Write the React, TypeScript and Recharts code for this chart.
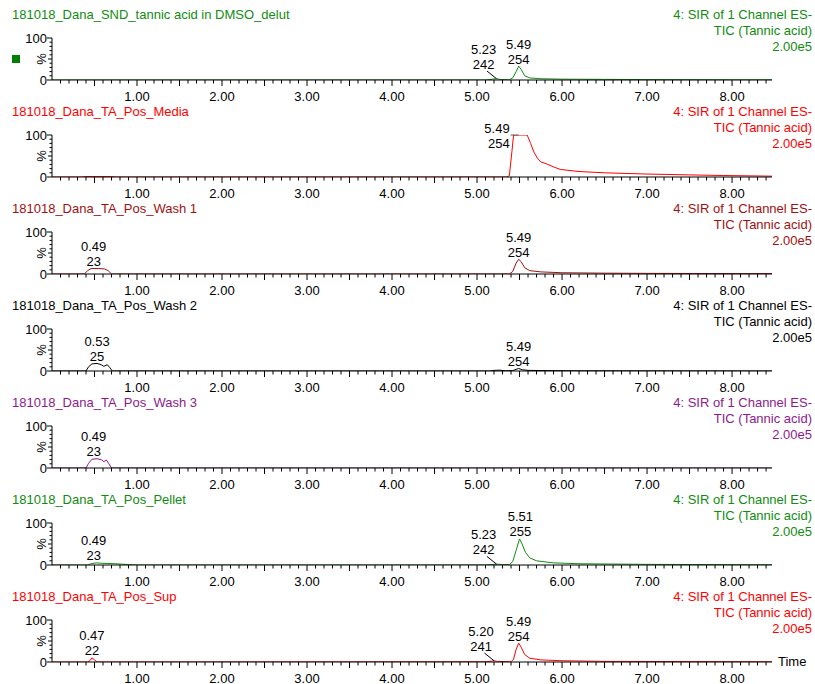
import { LineChart, Line, XAxis, YAxis, ReferenceDot } from "recharts";

const FONT = '"Liberation Sans", Arial, sans-serif';

// sample names and colours, top to bottom
const titles = [
  "181018_Dana_SND_tannic acid in DMSO_delut",
  "181018_Dana_TA_Pos_Media",
  "181018_Dana_TA_Pos_Wash 1",
  "181018_Dana_TA_Pos_Wash 2",
  "181018_Dana_TA_Pos_Wash 3",
  "181018_Dana_TA_Pos_Pellet",
  "181018_Dana_TA_Pos_Sup",
];
const colors = ["#108c10", "#ff0000", "#a01010", "#000000", "#8c1a8c", "#108c10", "#ff0000"];
const channelText = ["4: SIR of 1 Channel ES-", "TIC (Tannic acid)", "2.00e5"];

const xLabels = [1, 2, 3, 4, 5, 6, 7, 8];
const yTicks = [0, 10, 20, 30, 40, 50, 60, 70, 80, 90, 100];

// [time (min), % of 2.00e5]
const sndTrace = [
  [0, 0], [5.1, 0], [5.18, 2], [5.23, 3], [5.28, 1], [5.38, 0.5], [5.42, 5], [5.46, 20],
  [5.49, 33], [5.52, 25], [5.56, 10], [5.62, 5], [5.75, 3], [6.0, 2], [6.5, 1.5], [7.0, 1],
  [8.0, 0.5], [8.47, 0.5],
];
const mediaTrace = [
  [0, 0], [0.35, 0], [0.4, 1], [0.7, 1], [0.75, 0], [5.35, 0], [5.38, 3], [5.41, 60],
  [5.43, 100], [5.59, 100], [5.63, 80], [5.67, 59], [5.71, 45], [5.75, 36], [5.82, 31],
  [5.9, 24], [5.98, 18], [6.2, 13], [6.5, 10], [7.0, 7], [7.5, 5], [7.9, 3.5], [8.47, 2],
];
const wash1Trace = [
  [0, 0], [0.38, 0], [0.42, 8], [0.46, 13], [0.55, 13], [0.62, 12], [0.66, 8], [0.7, 0],
  [5.38, 0], [5.42, 6], [5.46, 26], [5.49, 35], [5.52, 29], [5.56, 15], [5.62, 8],
  [5.75, 5], [6.0, 3], [6.5, 2], [7.0, 1.5], [8.0, 1], [8.47, 1],
];
const wash2Trace = [
  [0, 0], [0.4, 0], [0.43, 10], [0.47, 17], [0.53, 18], [0.58, 15], [0.61, 11], [0.65, 15],
  [0.68, 8], [0.71, 0], [5.15, 0], [5.2, 1.5], [5.27, 2], [5.33, 0.5], [5.42, 1], [5.46, 4],
  [5.49, 6], [5.53, 3], [5.6, 1.5], [5.8, 1], [6.2, 0.5], [8.47, 0],
];
const wash3Trace = [
  [0, 0], [0.4, 0], [0.43, 11], [0.47, 21], [0.53, 22], [0.58, 20], [0.61, 15], [0.64, 19],
  [0.67, 10], [0.7, 0], [8.47, 0],
];
const pelletTrace = [
  [0, 0], [0.42, 0], [0.46, 3], [0.52, 5], [0.6, 4], [0.75, 3], [0.9, 1], [1.0, 0],
  [5.1, 0], [5.2, 1.5], [5.25, 2], [5.3, 1], [5.38, 1], [5.42, 8], [5.46, 35], [5.5, 62],
  [5.53, 50], [5.57, 30], [5.62, 17], [5.7, 10], [5.9, 5], [6.2, 3], [7.0, 1.5], [8.47, 0.5],
];
const supTrace = [
  [0, 0], [0.42, 0], [0.45, 4], [0.47, 10], [0.5, 5], [0.53, 0], [5.1, 0.5], [5.17, 2],
  [5.2, 3], [5.24, 1.5], [5.4, 0.5], [5.43, 7], [5.46, 30], [5.49, 45], [5.52, 35],
  [5.56, 18], [5.62, 9], [5.75, 5], [6.0, 3], [6.5, 1.5], [7.5, 1], [8.47, 0.5],
];
const traces = [sndTrace, mediaTrace, wash1Trace, wash2Trace, wash3Trace, pelletTrace, supTrace];

// peak annotations: retention time, scan
const sndPeaks = [
  { t: 5.23, v: 3, rt: "5.23", scan: "242", kind: "leader" },
  { t: 5.49, v: 33, rt: "5.49", scan: "254", kind: "top" },
];
const mediaPeaks = [{ t: 5.49, v: 100, rt: "5.49", scan: "254", kind: "left" }];
const wash1Peaks = [
  { t: 0.49, v: 13, rt: "0.49", scan: "23", kind: "top" },
  { t: 5.49, v: 35, rt: "5.49", scan: "254", kind: "top" },
];
const wash2Peaks = [
  { t: 0.53, v: 18, rt: "0.53", scan: "25", kind: "top" },
  { t: 5.49, v: 6, rt: "5.49", scan: "254", kind: "top" },
];
const wash3Peaks = [{ t: 0.49, v: 22, rt: "0.49", scan: "23", kind: "top" }];
const pelletPeaks = [
  { t: 0.49, v: 5, rt: "0.49", scan: "23", kind: "top" },
  { t: 5.23, v: 2, rt: "5.23", scan: "242", kind: "leader" },
  { t: 5.51, v: 62, rt: "5.51", scan: "255", kind: "top" },
];
const supPeaks = [
  { t: 0.47, v: 10, rt: "0.47", scan: "22", kind: "top" },
  { t: 5.2, v: 3, rt: "5.20", scan: "241", kind: "leader" },
  { t: 5.49, v: 45, rt: "5.49", scan: "254", kind: "top" },
];
const peaks = [sndPeaks, mediaPeaks, wash1Peaks, wash2Peaks, wash3Peaks, pelletPeaks, supPeaks];

const X_MAX = 8.47;
const xTicks = Array.from({ length: 84 }, (_, i) => (i + 1) / 10);

const XTick = (props: any) => {
  const { x, y, payload } = props;
  const tenth = Math.round(payload.value * 10);
  const isInt = tenth % 10 === 0;
  const len = tenth % 5 === 0 ? 6 : 3.5;
  return (
    <g>
      <line x1={x} x2={x} y1={y} y2={y + len} stroke="#000" />
      {isInt && xLabels.includes(tenth / 10) && (
        <text x={x} y={y + 20.5} textAnchor="middle" fontSize={13} fontFamily={FONT} fill="#000">
          {(tenth / 10).toFixed(2)}
        </text>
      )}
    </g>
  );
};

const YTick = (props: any) => {
  const { x, y, payload } = props;
  const v = payload.value;
  const major = v === 0 || v === 100;
  return (
    <g>
      <line x1={x - (major ? 5 : v === 50 ? 4 : 2.5)} x2={x} y1={y} y2={y} stroke="#000" />
      {major && (
        <text x={x - 5} y={y + 4.5} textAnchor="end" fontSize={13} fontFamily={FONT} fill="#000">
          {v}
        </text>
      )}
    </g>
  );
};

const PctLabel = (props: any) => {
  const { x, y, width, height } = props.viewBox;
  const cx = x + width - 11;
  const cy = y + height / 2;
  return (
    <text x={cx} y={cy} transform={`rotate(-90 ${cx} ${cy})`} textAnchor="middle" dominantBaseline="central"
      fontSize={13} fontFamily={FONT} fill="#000">
      %
    </text>
  );
};

const peakShape = (p: any) => (props: any) => {
  const { cx, cy } = props;
  const txt = { fontSize: 13, fontFamily: FONT, fill: "#000" };
  if (p.kind === "leader") {
    return (
      <g>
        <line x1={cx - 9.6} y1={cy - 7.7} x2={cx} y2={cy} stroke="#000" />
        <text x={cx - 13} y={cy - 24.8} textAnchor="middle" {...txt}>{p.rt}</text>
        <text x={cx - 13} y={cy - 9.8} textAnchor="middle" {...txt}>{p.scan}</text>
      </g>
    );
  }
  if (p.kind === "left") {
    return (
      <g>
        <line x1={cx - 8} y1={cy} x2={cx} y2={cy} stroke="#555" />
        <text x={cx - 9} y={cy - 2.5} textAnchor="end" {...txt}>{p.rt}</text>
        <text x={cx - 9} y={cy + 12.5} textAnchor="end" {...txt}>{p.scan}</text>
      </g>
    );
  }
  return (
    <g>
      <text x={cx} y={cy - 17.5} textAnchor="middle" {...txt}>{p.rt}</text>
      <text x={cx} y={cy - 2.5} textAnchor="middle" {...txt}>{p.scan}</text>
    </g>
  );
};

const Panel = ({ index }: { index: number }) => {
  const color = colors[index];
  const data = traces[index].map(([t, v]) => ({ t, v }));
  return (
    <div style={{ position: "absolute", left: 0, top: 97 * index, width: 815, height: 97 }}>
      <div style={{ position: "absolute", left: 12, top: 7, fontSize: 13, lineHeight: "16px", color, whiteSpace: "nowrap" }}>
        {titles[index]}
      </div>
      <div style={{ position: "absolute", right: 3, top: 7, fontSize: 13, lineHeight: "16px", color, textAlign: "right", whiteSpace: "nowrap" }}>
        {channelText.map((s) => (
          <div key={s}>{s}</div>
        ))}
      </div>
      {index === 0 && (
        <div style={{ position: "absolute", left: 12, top: 55, width: 8, height: 8, background: "#008000" }} />
      )}
      {index === titles.length - 1 && (
        <div style={{ position: "absolute", left: 778, top: 72, fontSize: 13, lineHeight: "16px", color: "#000" }}>Time</div>
      )}
      <div style={{ position: "absolute", left: 0, top: 6 }}>
        <LineChart width={815} height={96} data={data} margin={{ top: 32, right: 43, bottom: 2, left: 0 }}>
          <XAxis
            type="number"
            dataKey="t"
            domain={[0, X_MAX]}
            ticks={xTicks}
            interval={0}
            allowDataOverflow
            tick={<XTick />}
            tickLine={false}
            tickSize={0}
            tickMargin={0}
            axisLine={{ stroke: "#000" }}
            height={20}
          />
          <YAxis
            type="number"
            domain={[0, 100]}
            ticks={yTicks}
            interval={0}
            allowDataOverflow
            tick={<YTick />}
            tickLine={false}
            tickSize={0}
            tickMargin={0}
            axisLine={{ stroke: "#000" }}
            width={52}
            label={<PctLabel />}
          />
          <Line type="linear" dataKey="v" stroke={color} strokeWidth={1} dot={false} isAnimationActive={false} />
          {peaks[index].map((p) => (
            <ReferenceDot key={p.rt + p.scan} x={p.t} y={p.v} r={0} shape={peakShape(p)} ifOverflow="visible" />
          ))}
        </LineChart>
      </div>
    </div>
  );
}

export default function App() {
  return (
    <div style={{ position: "absolute", left: 0, top: 0, width: 815, height: 684, background: "#fff", fontFamily: FONT }}>
      {titles.map((_, i) => (
        <Panel key={i} index={i} />
      ))}
    </div>
  );
}
